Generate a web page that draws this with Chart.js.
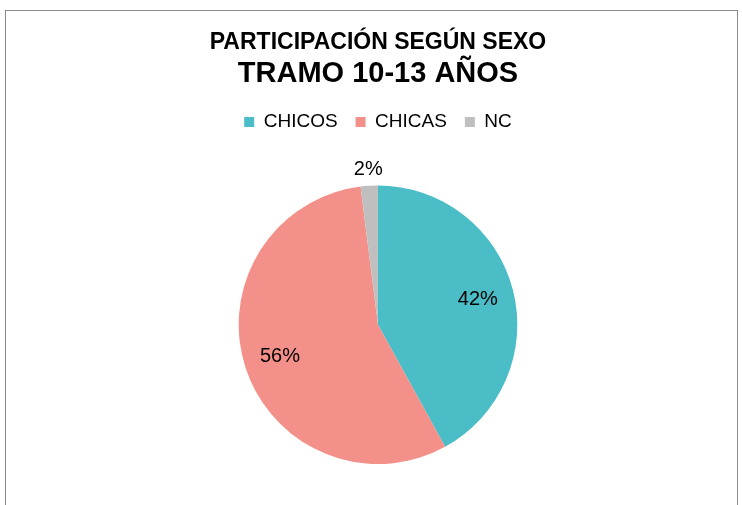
<!DOCTYPE html>
<html>
<head>
<meta charset="utf-8">
<script src="https://cdn.jsdelivr.net/npm/chart.js@4"></script>
<style>
  body { margin: 0; background: #fff; }
  #frame { position: absolute; left: 5px; top: 10px; width: 731px; height: 495px;
           border: 1px solid #8c8c8c; border-bottom: none; }
  #wrap { position: absolute; left: 0; top: 0; width: 731px; height: 495px; }
</style>
</head>
<body>
<div id="frame"><div id="wrap"><canvas id="chart"></canvas></div></div>
<script>
const categories = ['CHICOS', 'CHICAS', 'NC'];
const percentages = [42, 56, 2];
const sliceColors = ['#4ABDC6', '#F4908A', '#BFBFBF'];

const FONT = '"Liberation Sans", Arial, sans-serif';

// percent labels: inside for the big slices, outside for the tiny one
const pieLabels = {
    id: 'pieLabels',
    afterDatasetsDraw(chart) {
        const c = chart.ctx;
        const meta = chart.getDatasetMeta(0);
        c.save();
        c.font = '20px ' + FONT;
        c.fillStyle = '#000';
        c.textAlign = 'center';
        c.textBaseline = 'middle';
        meta.data.forEach((arc, i) => {
            const mid = (arc.startAngle + arc.endAngle) / 2;
            const r = percentages[i] < 5 ? arc.outerRadius + 16 : arc.outerRadius * 0.74;
            const x = arc.x + Math.cos(mid) * r;
            const y = arc.y + Math.sin(mid) * r;
            c.fillText(percentages[i] + '%', x, y);
        });
        c.restore();
    }
};

// leave a gap between the legend and the pie
const legendGap = {
    id: 'legendGap',
    beforeInit(chart) {
        const fit = chart.legend.fit;
        chart.legend.fit = function () {
            fit.bind(chart.legend)();
            this.height += 44;
        };
    }
};

new Chart(document.getElementById('chart'), {
    type: 'pie',
    data: {
        labels: categories,
        datasets: [{
            data: percentages,
            backgroundColor: sliceColors,
            borderWidth: 0
        }]
    },
    options: {
        responsive: true,
        maintainAspectRatio: false,
        animation: false,
        layout: { padding: { top: 14, bottom: 42, left: 13 } },
        plugins: {
            title: {
                display: true,
                text: 'PARTICIPACIÓN SEGÚN SEXO',
                color: '#000',
                font: { family: FONT, size: 23, weight: 'bold' },
                padding: { top: 4, bottom: 0 }
            },
            subtitle: {
                display: true,
                text: 'TRAMO 10-13 AÑOS',
                color: '#000',
                font: { family: FONT, size: 29, weight: 'bold' },
                padding: { top: 0, bottom: 3 }
            },
            legend: {
                position: 'top',
                labels: {
                    boxWidth: 10,
                    boxHeight: 10,
                    color: '#000',
                    padding: 18,
                    font: { family: FONT, size: 19 }
                }
            },
            tooltip: { enabled: false }
        }
    },
    plugins: [pieLabels, legendGap]
});
</script>
</body>
</html>
